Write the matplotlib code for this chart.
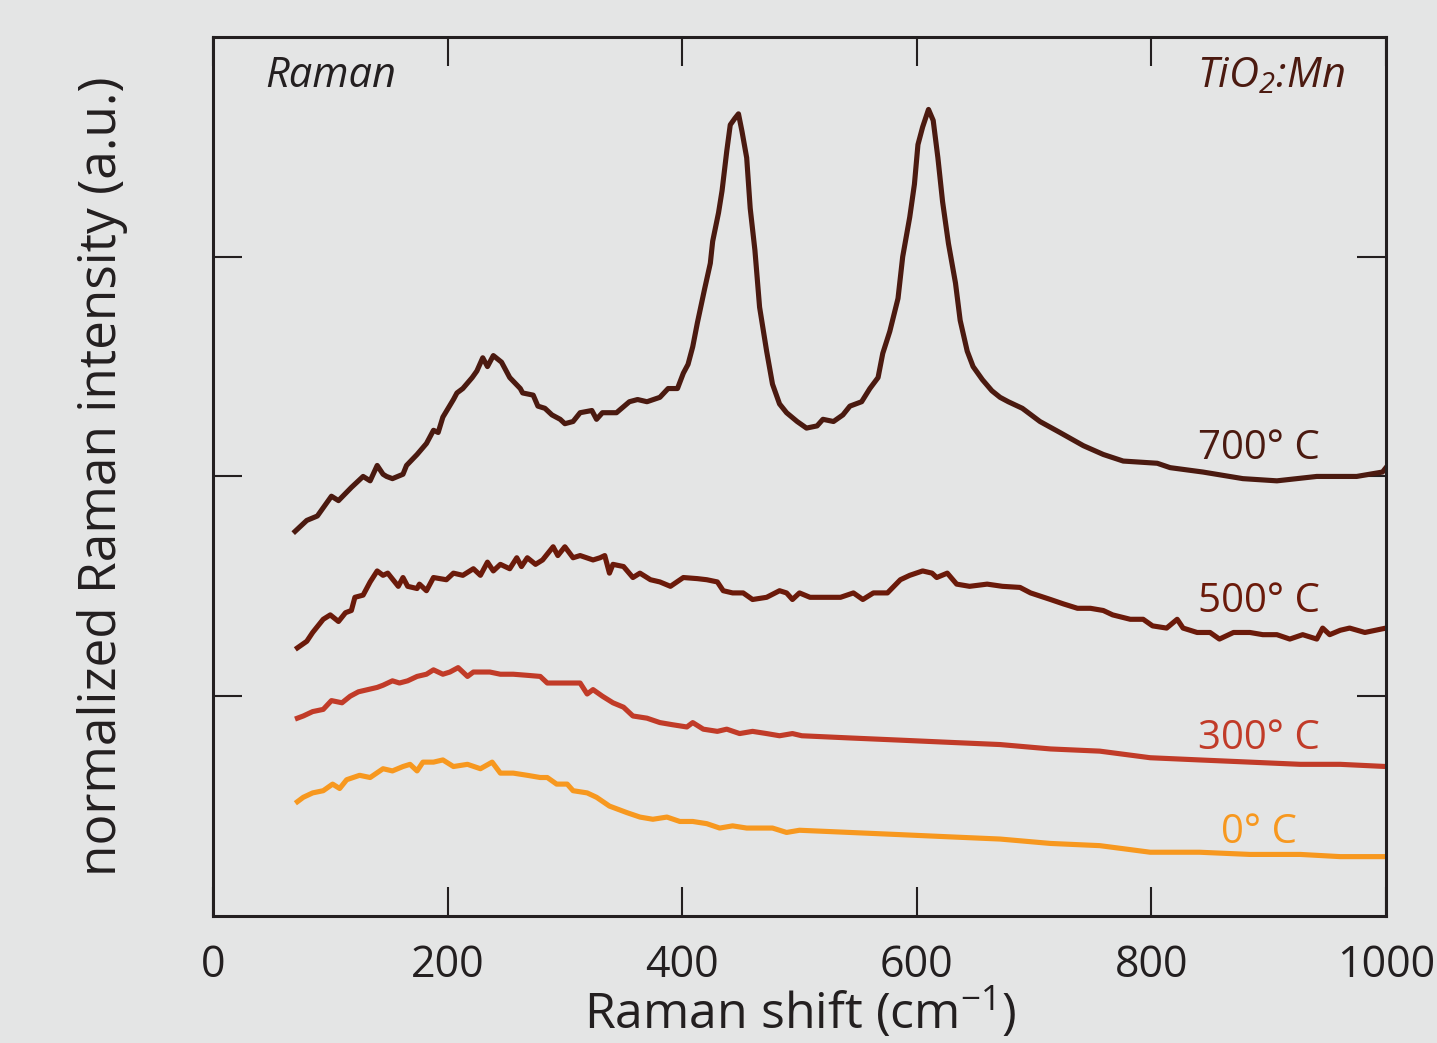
import matplotlib.pyplot as plt
import matplotlib as mpl

# Raman shift (cm-1) and normalized intensity
shift_700 = [70, 80, 89, 101, 107, 118, 128, 134, 140, 145, 148, 153, 162, 165, 174, 182, 188, 192, 196,
             205, 208, 213, 221, 225, 230, 234, 239, 246, 253, 262, 264, 273, 277, 283, 289, 296, 300, 307,
             313, 323, 327, 332, 344, 355, 362, 370, 381, 388, 396, 401, 405, 409, 413, 419, 424, 426, 431,
             434, 438, 441, 445, 448, 451, 455, 458, 462, 466, 472, 477, 483, 489, 498, 506, 515, 520, 529,
             537, 543, 553, 560, 567, 571, 577, 584, 588, 594, 598, 601, 605, 610, 614, 618, 622, 627, 633,
             637, 643, 648, 656, 664, 671, 678, 690, 705, 722, 742, 759, 776, 805, 816, 844, 878, 907, 941,
             975, 997, 1000]
int_700 = [1.75, 1.80, 1.82, 1.91, 1.89, 1.95, 2.00, 1.98, 2.05, 2.01, 2.00, 1.99, 2.01, 2.05, 2.10, 2.15,
           2.21, 2.20, 2.27, 2.35, 2.38, 2.40, 2.45, 2.48, 2.54, 2.50, 2.55, 2.52, 2.45, 2.40, 2.38, 2.37,
           2.32, 2.31, 2.28, 2.26, 2.24, 2.25, 2.29, 2.30, 2.26, 2.29, 2.29, 2.34, 2.35, 2.34, 2.36, 2.40,
           2.40, 2.47, 2.51, 2.59, 2.70, 2.85, 2.97, 3.07, 3.20, 3.30, 3.48, 3.60, 3.63, 3.65, 3.57, 3.45,
           3.22, 3.03, 2.77, 2.57, 2.42, 2.33, 2.29, 2.25, 2.22, 2.23, 2.26, 2.25, 2.28, 2.32, 2.34, 2.40,
           2.45, 2.56, 2.66, 2.81, 3.00, 3.18, 3.33, 3.51, 3.59, 3.67, 3.62, 3.45, 3.25, 3.06, 2.88, 2.71,
           2.57, 2.50, 2.44, 2.39, 2.36, 2.34, 2.31, 2.25, 2.20, 2.14, 2.10, 2.07, 2.06, 2.04, 2.02, 1.99,
           1.98, 2.00, 2.00, 2.02, 2.04]

shift_500 = [72, 80, 85, 94, 100, 107, 113, 118, 121, 128, 134, 140, 145, 149, 158, 162, 166, 174, 176, 182,
             188, 199, 205, 213, 222, 228, 234, 239, 245, 253, 259, 263, 268, 275, 281, 290, 294, 300, 307,
             313, 324, 330, 334, 338, 341, 350, 358, 364, 373, 381, 390, 401, 413, 421, 430, 435, 443, 452,
             460, 472, 483, 489, 494, 500, 509, 535, 546, 554, 563, 575, 586, 594, 605, 613, 617, 626, 634,
             645, 660, 673, 688, 697, 714, 725, 737, 748, 759, 767, 782, 793, 801, 813, 822, 827, 839, 850,
             858, 870, 884, 895, 907, 918, 929, 941, 946, 952, 961, 969, 982, 1000]
int_500 = [1.22, 1.25, 1.29, 1.35, 1.37, 1.34, 1.38, 1.39, 1.45, 1.46, 1.52, 1.57, 1.55, 1.56, 1.50, 1.54,
           1.50, 1.49, 1.51, 1.48, 1.54, 1.53, 1.56, 1.55, 1.58, 1.55, 1.61, 1.57, 1.60, 1.58, 1.63, 1.59,
           1.63, 1.60, 1.62, 1.68, 1.64, 1.68, 1.63, 1.64, 1.62, 1.63, 1.64, 1.56, 1.60, 1.59, 1.54, 1.56,
           1.53, 1.52, 1.50, 1.54, 1.535, 1.53, 1.52, 1.48, 1.47, 1.47, 1.44, 1.45, 1.48, 1.47, 1.44, 1.47,
           1.45, 1.45, 1.47, 1.44, 1.47, 1.47, 1.53, 1.55, 1.57, 1.56, 1.54, 1.56, 1.51, 1.50, 1.51, 1.50,
           1.495, 1.47, 1.44, 1.42, 1.40, 1.40, 1.39, 1.37, 1.35, 1.35, 1.32, 1.31, 1.35, 1.31, 1.29, 1.29,
           1.26, 1.29, 1.29, 1.28, 1.28, 1.26, 1.28, 1.26, 1.31, 1.28, 1.30, 1.31, 1.29, 1.31]

shift_300 = [72, 77, 85, 94, 101, 110, 117, 124, 132, 140, 145, 153, 159, 166, 174, 182, 188, 196, 202, 209,
             217, 222, 229, 236, 245, 256, 268, 279, 285, 293, 302, 313, 319, 324, 332, 341, 350, 358, 370,
             381, 392, 404, 409, 418, 430, 438, 449, 460, 472, 483, 494, 502, 543, 586, 628, 671, 714, 756,
             799, 841, 884, 927, 961, 1000]
int_300 = [0.90, 0.91, 0.93, 0.94, 0.98, 0.97, 1.00, 1.02, 1.03, 1.04, 1.05, 1.07, 1.06, 1.07, 1.09, 1.10,
           1.12, 1.10, 1.11, 1.13, 1.09, 1.11, 1.11, 1.11, 1.10, 1.10, 1.095, 1.09, 1.06, 1.06, 1.06, 1.06,
           1.01, 1.03, 1.00, 0.97, 0.95, 0.91, 0.90, 0.88, 0.87, 0.86, 0.88, 0.85, 0.84, 0.85, 0.83, 0.84,
           0.83, 0.82, 0.83, 0.82, 0.81, 0.80, 0.79, 0.78, 0.76, 0.75, 0.72, 0.71, 0.70, 0.69, 0.69, 0.68]

shift_0 = [72, 77, 85, 94, 102, 108, 114, 125, 134, 145, 153, 162, 168, 174, 179, 188, 196, 205, 217, 228,
           238, 245, 256, 268, 279, 285, 293, 302, 307, 319, 327, 338, 353, 364, 375, 387, 398, 409, 421,
           432, 443, 455, 466, 477, 489, 500, 543, 586, 628, 671, 714, 756, 799, 841, 884, 927, 961, 1000]
int_0 = [0.52, 0.54, 0.56, 0.57, 0.60, 0.58, 0.62, 0.64, 0.63, 0.67, 0.66, 0.68, 0.69, 0.66, 0.70, 0.70,
         0.71, 0.68, 0.69, 0.67, 0.70, 0.65, 0.65, 0.64, 0.63, 0.63, 0.60, 0.60, 0.57, 0.56, 0.54, 0.50,
         0.47, 0.45, 0.44, 0.45, 0.43, 0.43, 0.42, 0.40, 0.41, 0.40, 0.40, 0.40, 0.38, 0.39, 0.38, 0.37,
         0.36, 0.35, 0.33, 0.32, 0.29, 0.29, 0.28, 0.28, 0.27, 0.27]

labels = ['700° C', '500° C', '300° C', '0° C']
label_y = [2.125, 1.43, 0.805, 0.38]
colors = ['#4b1a10', '#6b1a0a', '#c13b28', '#f7981f']

x_ticks = [0, 200, 400, 600, 800, 1000]

mpl.rcParams['font.family'] = ['Open Sans', 'DejaVu Sans']
mpl.rcParams['mathtext.default'] = 'regular'
bg = '#e4e5e5'
ink = '#231f20'

fig = plt.figure(figsize=(14.37, 10.43), dpi=100, facecolor=bg)
ax = fig.add_axes([0.1482, 0.1218, 0.8163, 0.8428], facecolor=bg)

series = [(shift_700, int_700), (shift_500, int_500), (shift_300, int_300), (shift_0, int_0)]
for (xs, ys), lab, ly, c in zip(series, labels, label_y, colors):
    ax.plot(xs, ys, color=c, lw=3.7, solid_joinstyle='round')
    ax.text(892, ly, lab, color=c, fontsize=29, ha='center', va='center')

ax.set_xlim(0, 1000)
ax.set_ylim(0, 4)
ax.set_xticks(x_ticks)
ax.set_yticks([1, 2, 3])
ax.tick_params(direction='in', length=21, width=1.5, color=ink, top=True, right=True,
               labelleft=False, labelsize=31, pad=20, labelcolor=ink)
for sp in ax.spines.values():
    sp.set_linewidth(2.2)
    sp.set_color(ink)

ax.text(0.045, 0.955, 'Raman', transform=ax.transAxes, fontsize=30, style='italic',
        color=ink, ha='left', va='center')
ax.text(0.965, 0.955, r'TiO$_2$:Mn', transform=ax.transAxes, fontsize=30, style='italic',
        color='#4b1a10', ha='right', va='center')

fig.text(800 / 1437, 1 - 1030 / 1043, r'Raman shift (cm$^{-1}$)', fontsize=36, color=ink,
         ha='center', va='baseline')
fig.text(103 / 1437, 1 - 476 / 1043, 'normalized Raman intensity (a.u.)', fontsize=37,
         color=ink, rotation=90, ha='center', va='center')

fig.savefig('out.png', dpi=100, facecolor=bg)
